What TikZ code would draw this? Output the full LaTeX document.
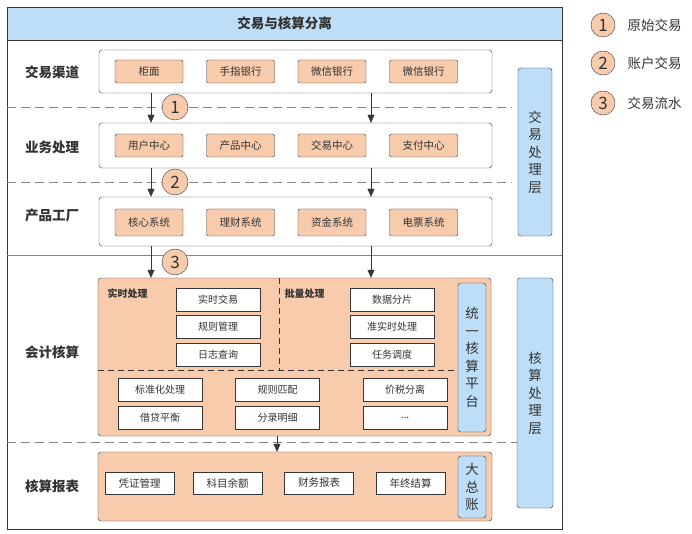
\documentclass[tikz,border=0pt]{standalone}
\usepackage{fontspec}
\setmainfont{Noto Sans CJK SC}
\usetikzlibrary{arrows.meta,positioning}
\definecolor{peach}{HTML}{F8CBAD}
\definecolor{sky}{HTML}{BEDEF8}
\definecolor{ink}{HTML}{333333}
\definecolor{edge}{HTML}{363636}
\definecolor{muted}{HTML}{858585}
\tikzset{>={Triangle[length=8pt,width=7pt]},line width=1.3pt,
  every node/.style={text=ink},
  group/.style={draw=edge,rounded corners=3pt,fill=white},
  core/.style={draw=edge,rounded corners=3pt,fill=peach},
  item/.style={draw=edge,fill=peach,rounded corners=2pt,minimum width=68pt,minimum height=23pt,
    inner sep=0pt,font=\fontsize{10.5}{11}\selectfont},
  cell/.style={draw=edge,fill=white,minimum width=84pt,minimum height=23pt,inner sep=0pt,
    font=\fontsize{10}{11}\selectfont},
  tag/.style={draw=edge,fill=sky,rounded corners=3pt,inner sep=0pt,align=center,
    font=\fontsize{13.5}{17.5}\selectfont},
  rowlabel/.style={font=\fontsize{13.5}{15}\selectfont\bfseries},
  num/.style={circle,draw=edge,fill=peach,minimum size=26pt,inner sep=0pt,
    font=\fontsize{17}{17}\selectfont},
  arr/.style={->,draw=edge},
  sep/.style={draw=muted,dash pattern=on 9pt off 5pt},
  inner/.style={draw=edge,dash pattern=on 6pt off 4pt},
  sub/.style={anchor=west,font=\fontsize{10}{11}\selectfont\bfseries}}
\begin{document}
\begin{tikzpicture}[x=1pt,y=-1pt]
\fill[white](0,0)rectangle(692,534);
\useasboundingbox(0,0)rectangle(692,534);
\draw[draw=edge](7,7)rectangle(562,529);
\node[draw=edge,fill=sky,minimum width=555pt,minimum height=33pt,inner sep=0pt,
  font=\fontsize{13.5}{15}\selectfont\bfseries](title)at(284.5,23.5){交易与核算分离};
\draw[sep](7,107)--(512,107);\draw[sep](7,182)--(512,182);
\draw[draw=muted](7,255)--(562,255);\draw[sep](7,442)--(517,442);
\node[rowlabel](lchan)at(52,72){交易渠道};
\node[rowlabel](lbiz)at(52,147){业务处理};
\node[rowlabel](lprod)at(52,215){产品工厂};
\node[rowlabel](lacct)at(52,352){会计核算};
\node[rowlabel](lrpt)at(52,486){核算报表};
\node[group,minimum width=393pt,minimum height=43pt](chan)at(295.5,71.5){};
\node[group,minimum width=393pt,minimum height=45pt](biz)at(295.5,145.5){};
\node[group,minimum width=393pt,minimum height=49pt](prod)at(295.5,221.5){};
\node[core,minimum width=393pt,minimum height=158pt](acct)at(294.5,357){};
\node[core,minimum width=394pt,minimum height=69pt](rpt)at(295,486.5){};
\foreach \t [count=\i] in {柜面,手指银行,微信银行,微信银行}
  \node[item](chan\i)at({149+91.5*(\i-1)},71.5){\t};
\foreach \t [count=\i] in {用户中心,产品中心,交易中心,支付中心}
  \node[item](biz\i)at({149+91.5*(\i-1)},145.5){\t};
\foreach \t [count=\i] in {核心系统,理财系统,资金系统,电票系统}
  \node[item,minimum height=27pt](prod\i)at({149+91.5*(\i-1)},222.5){\t};
\coordinate(colA)at(151,0);\coordinate(colB)at(371,0);\coordinate(colC)at(277,0);
\foreach \a/\b in {chan/biz,biz/prod,prod/acct}{
  \draw[arr](\a.south -| colA)--(\b.north -| colA);
  \draw[arr](\a.south -| colB)--(\b.north -| colB);}
\draw[arr](acct.south -| colC)--(rpt.north -| colC);
\node[num](n1)at(175,107){1};
\node[num](n2)at(175,182){2};
\node[num](n3)at(175,262){3};
\coordinate(mid)at(279,370);
\draw[inner](acct.north -| mid)--(mid);
\draw[inner](acct.west |- mid)--(455,370);
\node[sub](rt)at(104,294){实时处理};
\node[sub](bt)at(281,294){批量处理};
\foreach \t [count=\i] in {实时交易,规则管理,日志查询}
  \node[cell](rt\i)at(218,{299.5+27.5*(\i-1)}){\t};
\foreach \t [count=\i] in {数据分片,准实时处理,任务调度}
  \node[cell](bt\i)at(392,{299.5+27.5*(\i-1)}){\t};
\foreach \t/\x/\y [count=\i] in {标准化处理/160/389.5,借贷平衡/160/418,规则匹配/277.5/389.5,
  分录明细/277.5/418,价税分离/405/389.5}
  \node[cell](acc\i)at(\x,\y){\t};
\node[cell](acc6)at(405,418){...};
\node[tag,minimum width=28pt,minimum height=149pt](plat)at(472,357.5){统\\一\\核\\算\\平\\台};
\foreach \t/\x [count=\i] in {凭证管理/139.5,科目余额/227.5,财务报表/319,年终结算/410.5}
  \node[cell,minimum width=69pt,minimum height=22pt,font=\fontsize{10.5}{11}\selectfont](rpt\i)at(\x,483){\t};
\node[tag,minimum width=28pt,minimum height=62pt](ledger)at(472,487){大\\总\\账};
\node[tag,minimum width=34pt,minimum height=168pt](tlayer)at(535,152){交\\易\\处\\理\\层};
\node[tag,minimum width=36pt,minimum height=230pt](alayer)at(535,393){核\\算\\处\\理\\层};
\node[num,minimum size=24pt](k1)at(603,25){1};
\node[num,minimum size=24pt](k2)at(603,63){2};
\node[num,minimum size=24pt](k3)at(603,103){3};
\foreach \k/\t in {k1/原始交易,k2/账户交易,k3/交易流水}
  \node[right=9pt of \k,font=\fontsize{13.5}{14}\selectfont](\k t){\t};
\end{tikzpicture}
\end{document}
